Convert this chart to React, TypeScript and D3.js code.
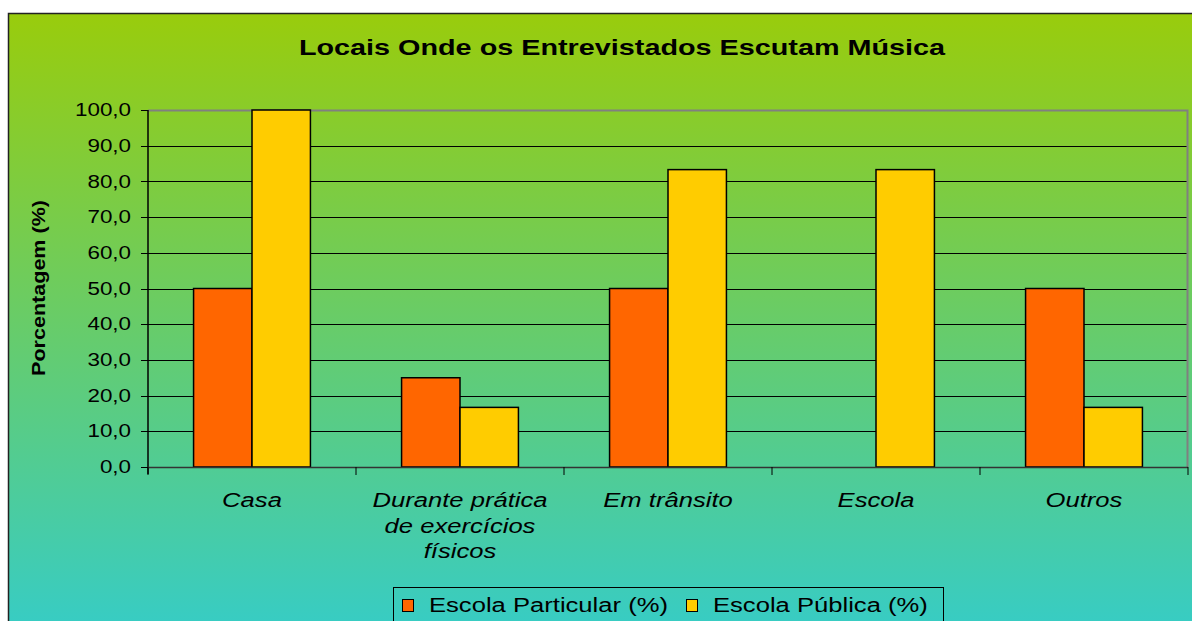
import React, { useRef, useEffect } from 'react';
import * as d3 from 'd3';

const categories = ['Casa', 'Durante prática de exercícios físicos', 'Em trânsito', 'Escola', 'Outros'];
const categoryLines = [['Casa'], ['Durante prática', 'de exercícios', 'físicos'], ['Em trânsito'], ['Escola'], ['Outros']];
const seriesNames = ['Escola Particular (%)', 'Escola Pública (%)'];
const particular = [50, 25, 50, 0, 50];
const publica = [100, 16.7, 83.3, 83.3, 16.7];
const yTicks = [0, 10, 20, 30, 40, 50, 60, 70, 80, 90, 100];
const colors = ['#FF6600', '#FFCC00'];

const W = 1192;
const H = 621;
const FONT = 'Liberation Sans, Arial, Helvetica, sans-serif';
// the original picture is stretched sideways, text included
const SX = 1.28;

const App = () => {
  const svgRef = useRef(null);

  useEffect(() => {
    const svg = d3.select(svgRef.current);
    svg.selectAll('*').remove();

    const plot = { left: 148, right: 1188, top: 110, bottom: 467 };

    // stretched text helper
    const stext = (parent, x, y, str, size, opts: any = {}) => {
      const g = parent.append('g').attr('transform', `translate(${x},${y}) scale(${SX},1)`);
      const t = g.append('text')
        .attr('x', 0).attr('y', 0)
        .attr('text-anchor', opts.anchor || 'start')
        .style('font-family', FONT)
        .style('font-size', size + 'px')
        .style('font-weight', opts.bold ? 'bold' : 'normal')
        .style('font-style', opts.italic ? 'italic' : 'normal')
        .text(str);
      if (opts.dy) t.attr('dy', opts.dy);
      return t;
    };

    // background gradient
    const defs = svg.append('defs');
    const grad = defs.append('linearGradient')
      .attr('id', 'bg')
      .attr('x1', 0).attr('y1', 0).attr('x2', 0).attr('y2', 1);
    grad.append('stop').attr('offset', '0%').attr('stop-color', '#99CC0C');
    grad.append('stop').attr('offset', '100%').attr('stop-color', '#33CCCC');

    svg.append('rect')
      .attr('x', 8.5).attr('y', 13.5)
      .attr('width', W + 20).attr('height', 640)
      .attr('fill', 'url(#bg)')
      .attr('stroke', '#222')
      .attr('stroke-width', 1.5);

    const x = d3.scaleBand()
      .domain(categories)
      .range([plot.left, plot.right])
      .paddingInner(0)
      .paddingOuter(0);

    const xInner = d3.scaleBand()
      .domain(seriesNames)
      .range([0, x.bandwidth()])
      .paddingInner(0)
      .paddingOuter(0.78);

    const y = d3.scaleLinear().domain([0, 100]).range([plot.bottom, plot.top]);

    // gridlines
    svg.append('g')
      .selectAll('line')
      .data(yTicks.filter(t => t > 0 && t < 100))
      .enter()
      .append('line')
      .attr('x1', plot.left).attr('x2', plot.right)
      .attr('y1', d => Math.round(y(d)) + 0.5).attr('y2', d => Math.round(y(d)) + 0.5)
      .attr('stroke', '#000')
      .attr('stroke-width', 1);

    // plot border (top/right)
    svg.append('path')
      .attr('d', `M${plot.left},${plot.top + 0.5}H${plot.right - 0.5}V${plot.bottom}`)
      .attr('fill', 'none')
      .attr('stroke', '#808080')
      .attr('stroke-width', 2);

    // bars
    const data = categories.map((c, i) => ({ c, vals: [particular[i], publica[i]] }));
    const groups = svg.append('g')
      .selectAll('g')
      .data(data)
      .enter()
      .append('g')
      .attr('transform', d => `translate(${x(d.c)},0)`);

    groups.selectAll('rect')
      .data(d => d.vals.map((v, j) => ({ v, s: seriesNames[j], j })).filter(e => e.v > 0))
      .enter()
      .append('rect')
      .attr('x', d => xInner(d.s))
      .attr('y', d => y(d.v))
      .attr('width', xInner.bandwidth())
      .attr('height', d => y(0) - y(d.v))
      .attr('fill', d => colors[d.j])
      .attr('stroke', '#000')
      .attr('stroke-width', 1.5);

    // y axis
    const yAxis = svg.append('g').attr('transform', `translate(${plot.left},0)`);
    yAxis.append('line')
      .attr('x1', 0).attr('x2', 0)
      .attr('y1', plot.top).attr('y2', plot.bottom + 7)
      .attr('stroke', '#000').attr('stroke-width', 1.5);
    yAxis.selectAll('.tick')
      .data(yTicks)
      .enter()
      .append('line')
      .attr('x1', -7).attr('x2', 0)
      .attr('y1', d => Math.round(y(d)) + 0.5).attr('y2', d => Math.round(y(d)) + 0.5)
      .attr('stroke', '#000').attr('stroke-width', 1);
    yTicks.forEach(t => {
      stext(svg, plot.left - 17, y(t), d3.format('.1f')(t).replace('.', ','), 17.5, { anchor: 'end', dy: '0.35em' });
    });

    // x axis
    svg.append('line')
      .attr('x1', plot.left).attr('x2', plot.right)
      .attr('y1', plot.bottom + 0.5).attr('y2', plot.bottom + 0.5)
      .attr('stroke', '#333').attr('stroke-width', 1.5);
    const bounds = categories.map(c => x(c)).concat([plot.right]);
    svg.append('g')
      .selectAll('line')
      .data(bounds)
      .enter()
      .append('line')
      .attr('x1', d => d).attr('x2', d => d)
      .attr('y1', plot.bottom).attr('y2', plot.bottom + 8)
      .attr('stroke', '#000').attr('stroke-width', 1);

    // category labels
    categories.forEach((c, i) => {
      categoryLines[i].forEach((line, k) => {
        stext(svg, x(c) + x.bandwidth() / 2, 507 + k * 25.5, line, 20, { anchor: 'middle', italic: true });
      });
    });

    // title
    stext(svg, 622, 55, 'Locais Onde os Entrevistados Escutam Música', 22.5, { anchor: 'middle', bold: true });

    // y axis title (condensed, thick)
    svg.append('g')
      .attr('transform', `translate(45,288) rotate(-90) scale(1,1.25)`)
      .append('text')
      .attr('text-anchor', 'middle')
      .attr('textLength', 176)
      .attr('lengthAdjust', 'spacingAndGlyphs')
      .style('font-family', FONT)
      .style('font-size', '15px')
      .style('font-weight', 'bold')
      .text('Porcentagem (%)');

    // legend
    const lg = svg.append('g');
    lg.append('rect')
      .attr('x', 393.5).attr('y', 587.5)
      .attr('width', 550).attr('height', 50)
      .attr('fill', 'none')
      .attr('stroke', '#000')
      .attr('stroke-width', 1);
    const legendX = [402, 686];
    seriesNames.forEach((s, i) => {
      lg.append('rect')
        .attr('x', legendX[i] + 0.5).attr('y', 599.5)
        .attr('width', 11).attr('height', 12)
        .attr('fill', colors[i])
        .attr('stroke', '#000').attr('stroke-width', 1);
      stext(lg, legendX[i] + 27, 612, s, 20);
    });
  }, []);

  return (
    <svg
      ref={svgRef}
      width={W}
      height={H}
      style={{ position: 'absolute', left: 0, top: 0, background: '#fff' }}
    />
  );
};

export default App;
